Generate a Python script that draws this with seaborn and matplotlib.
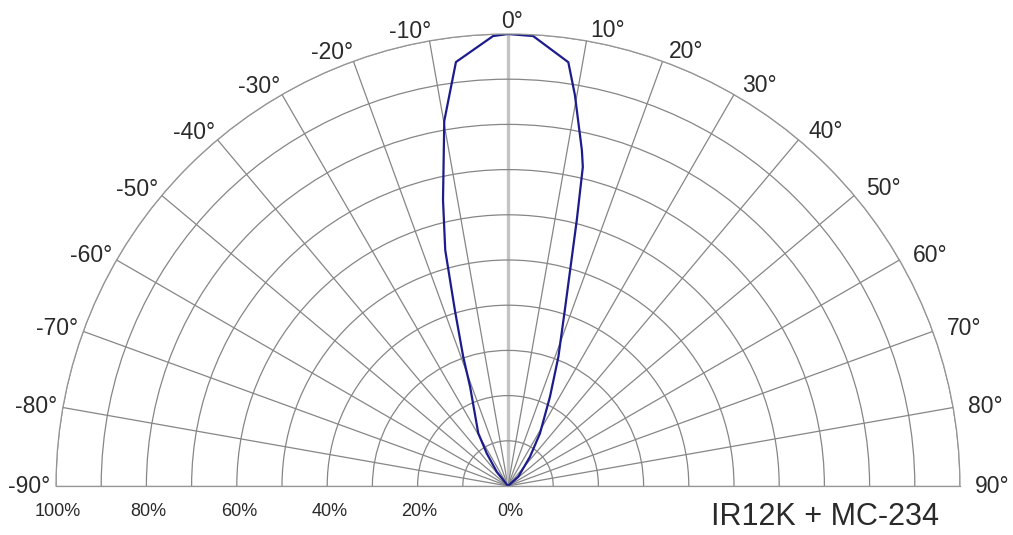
import numpy as np
import pandas as pd
import matplotlib
matplotlib.use("Agg")
import matplotlib.pyplot as plt
import seaborn as sns

# ---- data ----
angle_deg = [-45, -38.3, -33.1, -29.4, -20.9, -19.1, -16.8, -14.9, -12.8, -9.9, -7.0, -1.9, 0,
             3.2, 8.1, 9.7, 12.4, 13.2, 14.5, 17.9, 21.3, 25.2, 31.3, 36.9, 47.9, 50]
intensity = [0, 4.0, 8.6, 13.4, 23.5, 30.3, 40.7, 54.0, 64.9, 82.0, 94.5, 99.6, 100,
             99.7, 94.7, 87.8, 76.1, 72.5, 60.8, 40.9, 30.7, 21.8, 13.6, 8.1, 3.1, 0]
theta_ticks = [-90, -80, -70, -60, -50, -40, -30, -20, -10, 0, 10, 20, 30, 40, 50, 60, 70, 80, 90]
theta_labels = [f"{a}°" for a in theta_ticks]
r_ticks = [10, 20, 30, 40, 50, 60, 70, 80, 90, 100]
r_label_values = [100, 80, 60, 40, 20, 0]
r_labels = ["100%", "80%", "60%", "40%", "20%", "0%"]
caption = "IR12K + MC-234"

sns.set_theme(style="white")
plt.rcParams['font.family'] = ['Liberation Sans', 'DejaVu Sans']

W, H = 1013, 535
fig = plt.figure(figsize=(W / 100, H / 100), dpi=100)
cx, cy, R = 508, 486, 452
# polar axes fits the half-disc into a square box centred in the axes
side = 2 * R
top_px = cy - R / 2 - side / 2
ax = fig.add_axes([(cx - R) / W, (H - (top_px + side)) / H, side / W, side / H], projection='polar')
ax.set_theta_zero_location('N')
ax.set_theta_direction(-1)
ax.set_thetamin(-90)
ax.set_thetamax(90)
ax.set_ylim(0, 100)

grid_col = '#868686'
text_col = '#2a2a2a'
ax.set_thetagrids(theta_ticks, [''] * len(theta_ticks))
ax.set_rgrids(r_ticks, labels=[''] * len(r_ticks))
ax.grid(True, color=grid_col, linewidth=0.9)
for name, sp in ax.spines.items():
    sp.set_color('#959595')
    sp.set_linewidth(0.9)
for t in ax.xaxis.get_major_ticks():
    if abs(t.get_loc()) < 1e-6:
        t.gridline.set_color('#c4c4c4')
        t.gridline.set_linewidth(2.4)

df = pd.DataFrame({"theta": np.radians(angle_deg), "r": intensity})
sns.lineplot(data=df, x="theta", y="r", sort=False, estimator=None, ax=ax,
             color='#1c1c8c', linewidth=1.6)
ax.set_xlabel("")
ax.set_ylabel("")

PT = 0.72  # points per pixel at 100 dpi
for a, lab in zip(theta_ticks, theta_labels):
    t = np.radians(a)
    if a > 0:
        dx, dy, ha = 2 + 13 * np.sin(t), 11 * np.cos(t) - 0.5, 'left'
    elif a < 0:
        dx, dy, ha = 3 - 9 * np.sin(-t), 10 * np.cos(t) - 0.5, 'right'
    else:
        dx, dy, ha = 4, 12, 'center'
    ax.annotate(lab, xy=(t, 100), xytext=(dx * PT, dy * PT), textcoords='offset points',
                ha=ha, va='center', fontsize=16.5, color=text_col, annotation_clip=False)

for v, lab in zip(r_label_values, r_labels):
    ax.annotate(lab, xy=(np.radians(-90), v), xytext=(1.5, -18), textcoords='offset points',
                ha='center', va='center', fontsize=13, color=text_col, annotation_clip=False)

fig.text(825 / W, 1 - 517 / H, caption, ha='center', va='center', fontsize=22, color=text_col)

fig.savefig("out.png", dpi=100)
